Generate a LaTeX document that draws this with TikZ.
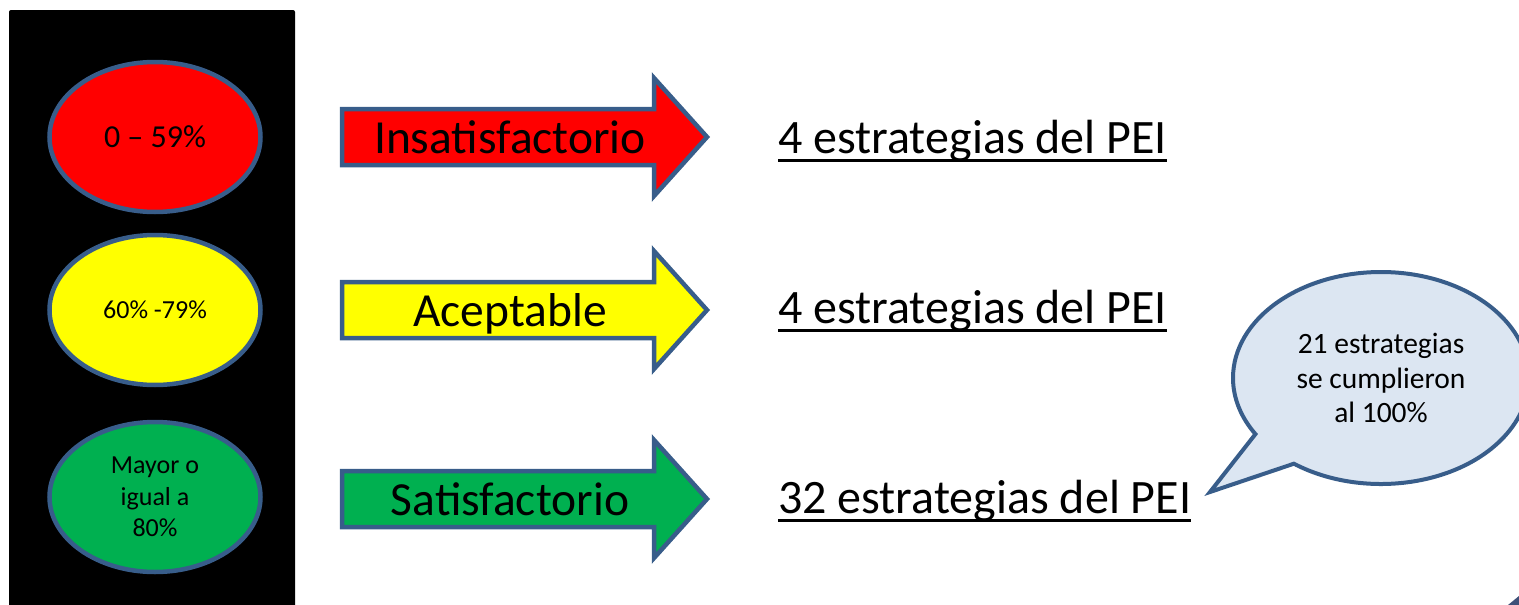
\documentclass[tikz,border=0pt]{standalone}
\usepackage{fontspec}
\setmainfont{Carlito}
\usetikzlibrary{shapes.geometric,shapes.callouts,positioning}
\definecolor{lineblue}{RGB}{56,93,138}
\definecolor{lampred}{RGB}{255,0,0}
\definecolor{lampyellow}{RGB}{255,255,0}
\definecolor{lampgreen}{RGB}{0,176,80}
\definecolor{bubblefill}{RGB}{220,230,242}
\definecolor{cornerblue}{RGB}{62,80,120}

\begin{document}
\begin{tikzpicture}[x=1pt, y=-1pt,
    lamp/.style={ellipse, draw=lineblue, line width=4.5pt, minimum width=211pt, minimum height=150pt, inner sep=0pt, align=center, font=\fontsize{26}{31.5}\selectfont},
    arr/.style={draw=lineblue, line width=4.5pt, line join=miter},
    lbl/.style={anchor=base, inner sep=0pt, font=\fontsize{47.5}{56}\selectfont},
    est/.style={anchor=base west, inner sep=0pt, font=\fontsize{48}{57}\selectfont},
    uline/.style={line width=3pt}
]
\useasboundingbox (0,0) rectangle (1519,605);
\fill[black, rounded corners=2pt] (9,10) rectangle (295,620);

% traffic light
\node[lamp, fill=lampred, font=\fontsize{32}{34}\selectfont] (lampR) at (155,137) {0 -- 59\%};
\node[lamp, fill=lampyellow] (lampY) at (155,310) {60\% -79\%};
\node[lamp, fill=lampgreen] (lampG) at (155,497) {Mayor o\\igual a\\80\%};

% block arrows
\foreach \nm/\yc/\col/\lab in {ins/137/lampred/Insatisfactorio, ace/310/lampyellow/Aceptable, sat/499/lampgreen/Satisfactorio} {
    \draw[arr, fill=\col] (342,\yc-28) -- (654,\yc-28) -- (654,\yc-59) -- (707,\yc)
        -- (654,\yc+59) -- (654,\yc+28) -- (342,\yc+28) -- cycle;
    \node[lbl] (lbl\nm) at (510,\yc+16) {\lab};
}

% results
\node[est] (estA) at (778,153) {4 estrategias del PEI};
\node[est] (estB) at (778,323) {4 estrategias del PEI};
\node[est] (estC) at (778,513) {32 estrategias del PEI};
\foreach \e in {estA, estB, estC}
    \draw[uline] ([yshift=-7pt]\e.base west) -- ([yshift=-7pt]\e.base east);

% callout
\node[ellipse callout, draw=lineblue, line width=4pt, fill=bubblefill,
      minimum width=296pt, minimum height=212pt, inner sep=0pt,
      callout absolute pointer={(1210,492)}, callout pointer arc=22,
      align=center, font=\fontsize{29.5}{34.5}\selectfont] (bubble) at (1381,378)
      {21 estrategias\\se cumplieron\\al 100\%};

\fill[cornerblue] (1508,605) -- (1519,596) -- (1519,605) -- cycle;
\end{tikzpicture}
\end{document}
